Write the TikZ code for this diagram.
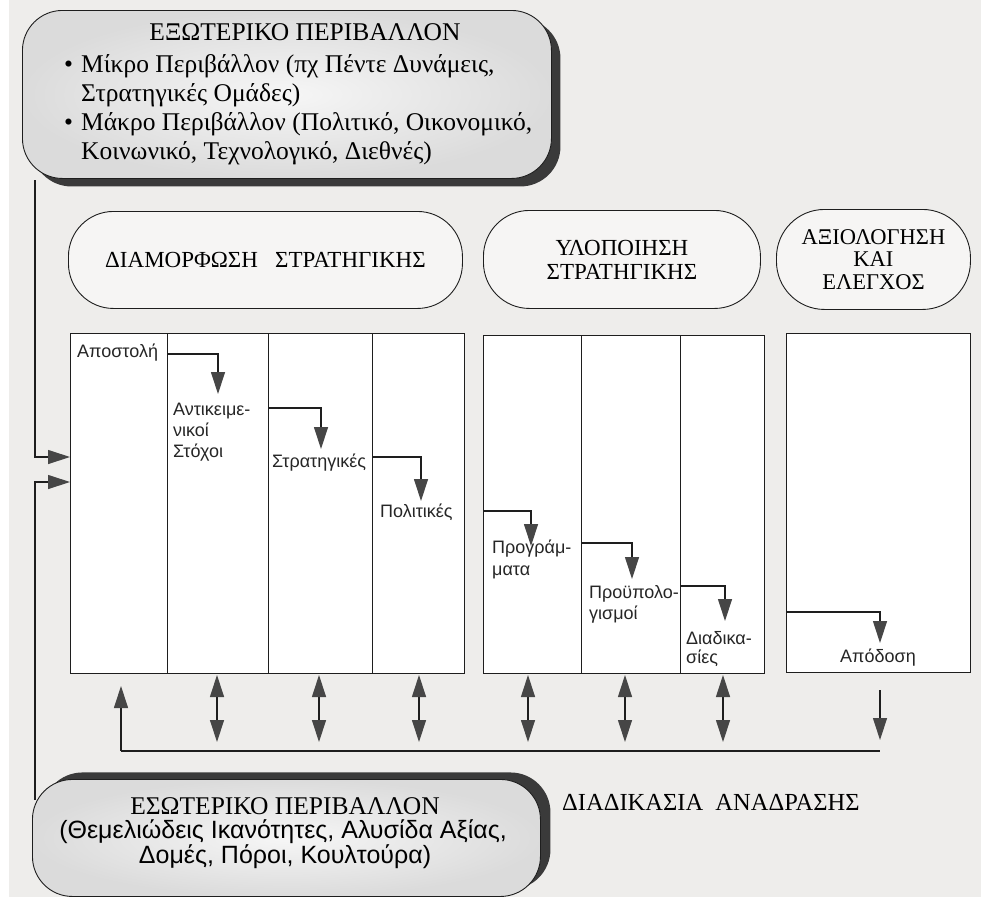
\documentclass[tikz,border=0pt]{standalone}
\usepackage{fontspec}
\setmainfont{Liberation Serif}
\newfontfamily\labelfont{Liberation Sans}
\usetikzlibrary{arrows.meta,shadows}

\definecolor{paper}{HTML}{EEEDEB}
\definecolor{tipgray}{HTML}{464646}
\definecolor{shadowgray}{HTML}{3A3A3A}
\definecolor{inkline}{HTML}{1E1E1E}

\tikzset{
  tip/.tip={Triangle[length=22pt,width=14pt,color=tipgray]},
  conn/.style={draw=inkline, line width=1.2pt},
  flow/.style={conn, -tip},
  twoway/.style={conn, tip-tip},
  envbox/.style={draw=inkline, line width=0.9pt, rounded corners=40pt,
    inner color=gray!7, outer color=gray!28, anchor=north west},
  stagepill/.style={draw=inkline, line width=0.9pt, fill=white!45!paper,
    align=center, font=\fontsize{23}{24}\selectfont, inner sep=0pt},
  panel/.style={draw=inkline, line width=1pt, fill=white, anchor=north west, inner sep=0pt},
  heading/.style={font=\fontsize{25.5}{28}\selectfont, anchor=base, inner sep=0pt},
  bodytext/.style={font=\fontsize{25.5}{28}\selectfont, anchor=base west, inner sep=0pt},
  lbl/.style={font=\labelfont\fontsize{18}{21}\selectfont, anchor=base west, inner sep=0pt, text=black!85},
  subtext/.style={font=\labelfont\fontsize{25}{28}\selectfont, anchor=base, inner sep=0pt},
}

\begin{document}
\begin{tikzpicture}[x=1pt,y=-1pt]
\useasboundingbox (0,0) rectangle (981,902);
\fill[white] (0,0) rectangle (981,902);
\fill[paper] (9,0) rectangle (981,897);

% ---------- feedback lines from the environments into the formulation panel
\coordinate (extfoot) at (35,180);
\coordinate (intfoot) at (35,800);
\coordinate (inA1) at (70,457);
\coordinate (inA2) at (70,482);
\draw[flow] (extfoot) |- (inA1);
\draw[flow] (intfoot) |- (inA2);

% ---------- external environment
\node[envbox, minimum width=529pt, minimum height=168pt,
  drop shadow={shadow xshift=9pt, shadow yshift=-8pt, fill=shadowgray, opacity=1}]
  (ext) at (22,10) {};
\node[heading] (exttitle) at (305,40) {ΕΞΩΤΕΡΙΚΟ ΠΕΡΙΒΑΛΛΟΝ};
\node[bodytext] (extb1) at (64,72) {•};
\node[bodytext] (extl1) at (81,72) {Μίκρο Περιβάλλον (πχ Πέντε Δυνάμεις,};
\node[bodytext] (extl2) at (81,101) {Στρατηγικές Ομάδες)};
\node[bodytext] (extb2) at (64,130) {•};
\node[bodytext] (extl3) at (81,130) {Μάκρο Περιβάλλον (Πολιτικό, Οικονομικό,};
\node[bodytext] (extl4) at (81,159) {Κοινωνικό, Τεχνολογικό, Διεθνές)};

% ---------- stage headers
\node[stagepill, rounded corners=45pt, minimum width=394pt, minimum height=97pt,
  anchor=north west] (pform) at (68,211) {ΔΙΑΜΟΡΦΩΣΗ\ \ \ ΣΤΡΑΤΗΓΙΚΗΣ};
\node[stagepill, rounded corners=46pt, minimum width=277pt, minimum height=98pt,
  anchor=north west] (pimpl) at (483,210) {ΥΛΟΠΟΙΗΣΗ\\ΣΤΡΑΤΗΓΙΚΗΣ};
\node[stagepill, rounded corners=48pt, minimum width=194pt, minimum height=100pt,
  anchor=north west, font=\fontsize{22.5}{22.5}\selectfont] (peval) at (776,209) {ΑΞΙΟΛΟΓΗΣΗ\\ΚΑΙ\\ΕΛΕΓΧΟΣ};

% ---------- stage panels
\node[panel, minimum width=394pt, minimum height=340pt] (boxA) at (70,333) {};
\node[panel, minimum width=281pt, minimum height=338pt] (boxB) at (483,335) {};
\node[panel, minimum width=184pt, minimum height=339pt] (boxC) at (786,333) {};
\draw[conn, line width=1pt] (167,333) -- (167,673);
\draw[conn, line width=1pt] (268,333) -- (268,673);
\draw[conn, line width=1pt] (372,333) -- (372,673);
\draw[conn, line width=1pt] (581,335) -- (581,673);
\draw[conn, line width=1pt] (680,335) -- (680,673);

% ---------- panel labels
\node[lbl] (mission) at (77,357) {Αποστολή};
\node[lbl] (obj1) at (173,415) {Αντικειμε-};
\node[lbl] (obj2) at (173,436) {νικοί};
\node[lbl] (obj3) at (173,457) {Στόχοι};
\node[lbl] (strat) at (272,467) {Στρατηγικές};
\node[lbl] (policy) at (380,517) {Πολιτικές};
\node[lbl] (prog1) at (492,553) {Προγράμ-};
\node[lbl] (prog2) at (492,575) {ματα};
\node[lbl] (budg1) at (589,598) {Προϋπολο-};
\node[lbl] (budg2) at (589,619) {γισμοί};
\node[lbl] (proc1) at (686,644) {Διαδικα-};
\node[lbl] (proc2) at (686,663) {σίες};
\node[lbl, anchor=base] (perf) at (878,662) {Απόδοση};

% ---------- cascade arrows
\coordinate (c1s) at (167,354);  \coordinate (c1t) at (218,394);
\coordinate (c2s) at (268,408);  \coordinate (c2t) at (321,449);
\coordinate (c3s) at (372,457);  \coordinate (c3t) at (421,501);
\coordinate (c4s) at (483,511);  \coordinate (c4t) at (531,546);
\coordinate (c5s) at (581,543);  \coordinate (c5t) at (632,579);
\coordinate (c6s) at (680,586);  \coordinate (c6t) at (725,621);
\coordinate (c7s) at (786,612);  \coordinate (c7t) at (880,643);
\foreach \s/\t in {c1s/c1t,c2s/c2t,c3s/c3t,c4s/c4t,c5s/c5t,c6s/c6t,c7s/c7t}
  \draw[flow] (\s) -| (\t);

% ---------- exchange with the feedback loop
\foreach \x [count=\i] in {217,319,419,528,625,723} {
  \coordinate (up\i) at (\x,675);
  \coordinate (dn\i) at (\x,742);
  \draw[twoway] (up\i) -- (dn\i);
}
\coordinate (fbL) at (121,751);
\coordinate (fbR) at (880,751);
\coordinate (fbUp) at (121,686);
\coordinate (perfOut) at (880,690);
\coordinate (perfIn) at (880,740);
\draw[conn] (fbL) -- (fbR);
\draw[flow] (fbL) -- (fbUp);
\draw[flow] (perfOut) -- (perfIn);

\node[font=\fontsize{24.5}{26}\selectfont, anchor=base west, inner sep=0pt] (fbtitle)
  at (562,810) {ΔΙΑΔΙΚΑΣΙΑ\ \ ΑΝΑΔΡΑΣΗΣ};

% ---------- internal environment
\node[envbox, minimum width=508pt, minimum height=117pt,
  drop shadow={shadow xshift=10pt, shadow yshift=7pt, fill=shadowgray, opacity=1}]
  (int) at (32,779) {};
\node[heading] (inttitle) at (285,814) {ΕΣΩΤΕΡΙΚΟ ΠΕΡΙΒΑΛΛΟΝ};
\node[subtext] (intl1) at (283,838) {(Θεμελιώδεις Ικανότητες, Αλυσίδα Αξίας,};
\node[subtext] (intl2) at (285,863) {Δομές, Πόροι, Κουλτούρα)};
\end{tikzpicture}
\end{document}
